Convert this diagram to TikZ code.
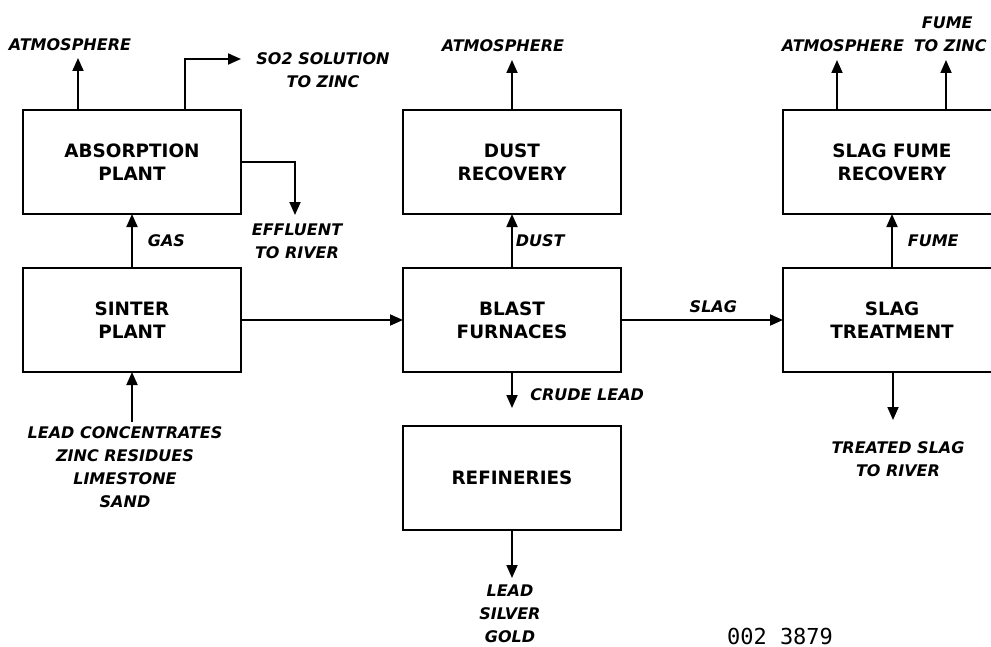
\documentclass[tikz,border=0pt]{standalone}
\usepackage{fontspec}
\setsansfont{DejaVu Sans}
\newfontfamily\codefont{DejaVu Sans Mono}
\usetikzlibrary{arrows.meta, positioning}

\begin{document}
\begin{tikzpicture}[x=0.5pt, y=-0.5pt, >={Triangle[length=6.5pt,width=5.5pt]},
    node distance=27pt and 81pt]
  \tikzset{
    unit/.style={
      rectangle,
      draw=black,
      line width=0.9pt,
      minimum width=109pt,
      minimum height=52pt,
      outer sep=0pt,
      align=center,
      font=\sffamily\bfseries\fontsize{9.2}{11.5}\selectfont},
    note/.style={
      align=center,
      inner sep=1pt,
      font=\sffamily\bfseries\itshape\fontsize{8}{11.5}\selectfont},
    flow/.style={
      ->,
      line width=0.9pt}}

  \useasboundingbox (0,0) rectangle (991,647);
  \clip (0,0) rectangle (991,647);

  % process units
  \node[unit] (sinter) at (132,320) {SINTER\\PLANT};
  \node[unit] (absorb) [above=of sinter] {ABSORPTION\\PLANT};
  \node[unit] (blast) [right=of sinter] {BLAST\\FURNACES};
  \node[unit] (dust) [above=of blast] {DUST\\RECOVERY};
  \node[unit] (refine) [below=of blast] {REFINERIES};
  \node[unit] (slag) [right=of blast] {SLAG\\TREATMENT};
  \node[unit] (fume) [above=of slag] {SLAG FUME\\RECOVERY};

  % free ends
  \coordinate (atmA) at (78,58);
  \coordinate (so2) at (241,59);
  \coordinate (eff) at (295,215);
  \coordinate (feed) at (132,422);
  \coordinate (atmB) at (512,60);
  \coordinate (crude) at (512,408);
  \coordinate (metals) at (512,578);
  \coordinate (atmC) at (837,60);
  \coordinate (zinc) at (946,60);
  \coordinate (treated) at (893,420);

  % labels
  \node[note] (atmAlbl) at (70,45) {ATMOSPHERE};
  \node[note] (so2lbl) at (323,70) {SO2 SOLUTION\\TO ZINC};
  \node[note] (efflbl) at (297,241) {EFFLUENT\\TO RIVER};
  \node[note] (feedlbl) at (125,467) {LEAD CONCENTRATES\\ZINC RESIDUES\\LIMESTONE\\SAND};
  \node[note] (atmBlbl) at (503,46) {ATMOSPHERE};
  \node[note, anchor=west] (crudelbl) at (528,395) {CRUDE LEAD};
  \node[note] (metalslbl) at (510,614) {LEAD\\SILVER\\GOLD};
  \node[note] (atmClbl) at (843,46) {ATMOSPHERE};
  \node[note, anchor=east] (zinclbl) at (989,34) {FUME\phantom{I}\\TO ZINC};
  \node[note] (treatedlbl) at (898,459) {TREATED SLAG\\TO RIVER};
  \node[font=\codefont\fontsize{11}{13}\selectfont] (figno) at (780,636) {002 3879};

  % flows
  \path[flow] (absorb.north -| atmA) edge (atmA);
  \draw[flow] ([xshift=26.5pt]absorb.north) |- (so2);
  \draw[flow] (absorb.east) -| (eff);
  \draw[flow] (sinter) -- (absorb) node[note, midway, right=6.5pt] {GAS};
  \path[flow] (feed) edge (sinter.south);
  \path[flow] (sinter) edge (blast);

  \path[flow] (dust.north) edge (atmB);
  \draw[flow] (blast) -- (dust) node[note, midway, right=0.5pt] {DUST};
  \path[flow] (blast.south) edge (crude);
  \path[flow] (refine.south) edge (metals);
  \draw[flow] (blast) -- (slag) node[note, pos=0.57, above=2pt] {SLAG};

  \path[flow] (fume.north -| atmC) edge (atmC);
  \path[flow] (fume.north -| zinc) edge (zinc);
  \draw[flow] (slag) -- (fume) node[note, midway, right=6.5pt] {FUME};
  \path[flow] (slag.south -| treated) edge (treated);

\end{tikzpicture}
\end{document}
